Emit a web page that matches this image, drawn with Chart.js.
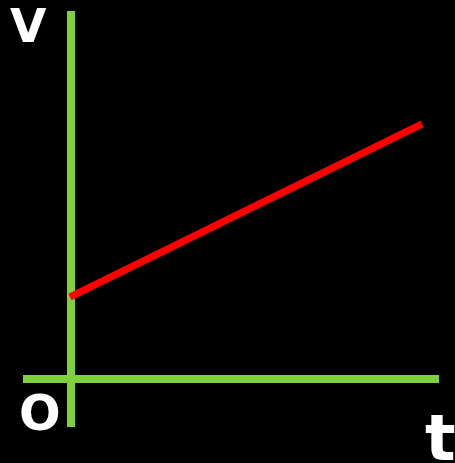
<!DOCTYPE html>
<html>
<head>
<meta charset="utf-8">
<script src="https://cdn.jsdelivr.net/npm/chart.js@4.4.1/dist/chart.umd.min.js"></script>
<style>
  html, body { margin: 0; padding: 0; background: #000; }
  canvas { display: block; }
</style>
</head>
<body>
<canvas id="vtChart" width="455" height="463"></canvas>
<script>
// v-t graph, units are arbitrary
const tAxis = [-48, 368];      // horizontal axis from/to (t)
const vAxis = [-48, 368];      // vertical axis from/to (v)
const lineT = [-1, 351];       // red line t values
const lineV = [82, 255];       // red line v values
const axisLabels = ['V', 'O', 't'];

const green = '#7ED13C';
const red = '#FF0000';

// black background + text labels (V, O, t)
const labelPlugin = {
  id: 'labels',
  beforeDraw(chart) {
    const c = chart.ctx;
    c.save();
    c.fillStyle = '#000';
    c.fillRect(0, 0, chart.width, chart.height);
    c.restore();
  },
  afterDraw(chart) {
    const c = chart.ctx;
    c.save();
    c.fillStyle = '#fff';
    c.textBaseline = 'alphabetic';
    c.textAlign = 'left';
    c.font = 'bold 47px "DejaVu Sans"';
    c.fillText(axisLabels[0], 10, 42);
    c.font = 'bold 49px "DejaVu Sans"';
    c.fillText(axisLabels[1], 19, 430);
    c.font = 'bold 64px "DejaVu Sans"';
    c.fillText(axisLabels[2], 425, 460);
    c.restore();
  }
};

const ctx = document.getElementById('vtChart');
const vtChart = new Chart(ctx, {
  type: 'scatter',
  data: {
    datasets: [
      {
        label: 't axis',
        data: tAxis.map(t => ({ x: t, y: 0 })),
        showLine: true,
        borderColor: green,
        borderWidth: 8,
        pointRadius: 0,
        order: 2
      },
      {
        label: 'v axis',
        data: vAxis.map(v => ({ x: 0, y: v })),
        showLine: true,
        borderColor: green,
        borderWidth: 8,
        pointRadius: 0,
        order: 2
      },
      {
        label: 'v(t)',
        data: lineT.map((t, i) => ({ x: t, y: lineV[i] })),
        showLine: true,
        borderColor: red,
        borderWidth: 7,
        pointRadius: 0,
        order: 1
      }
    ]
  },
  options: {
    responsive: false,
    animation: false,
    layout: { padding: 0 },
    plugins: {
      legend: { display: false },
      tooltip: { enabled: false }
    },
    scales: {
      x: { type: 'linear', display: false, min: -71, max: 384 },
      y: { type: 'linear', display: false, min: -84, max: 379 }
    }
  },
  plugins: [labelPlugin]
});
</script>
</body>
</html>
